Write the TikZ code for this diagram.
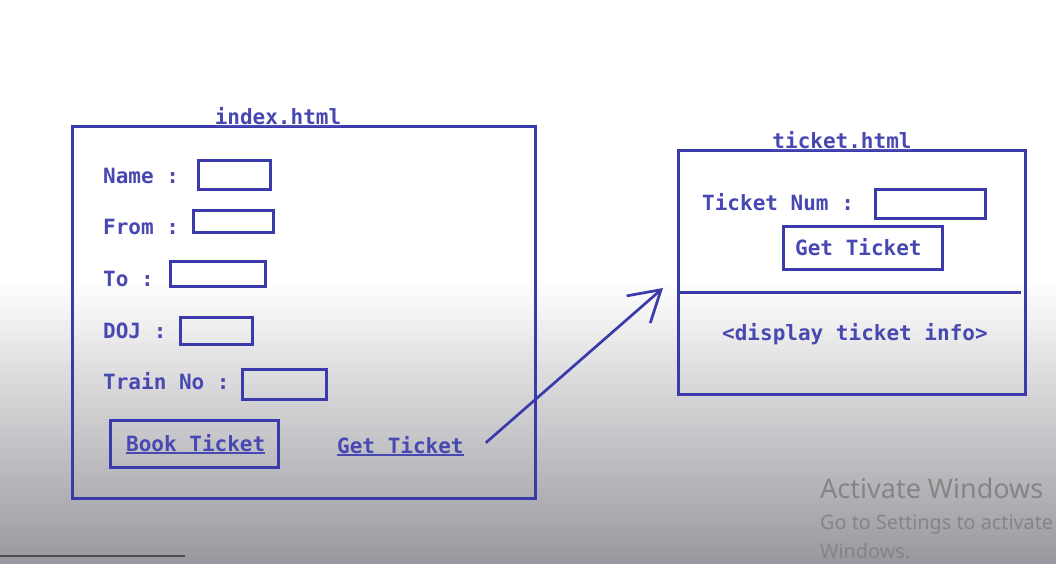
\documentclass[tikz,border=0pt]{standalone}
\usepackage{fontspec}
\setmonofont{DejaVu Sans Mono}
\newfontfamily\winfont{Noto Sans}
\usetikzlibrary{arrows.meta, positioning}

\definecolor{inkblue}{RGB}{58,58,170}
\definecolor{labelblue}{RGB}{72,72,178}
\definecolor{shadegray}{RGB}{152,152,158}
\definecolor{midgray}{RGB}{214,214,218}
\newcommand{\linktext}[1]{\setbox0\hbox{#1}\rlap{\raisebox{-2.6pt}{\rule{\wd0}{1.5pt}}}\box0}

\begin{document}
\begin{tikzpicture}[
    x=1pt, y=-1pt,
    page/.style={rectangle, draw=inkblue, line width=3pt, inner sep=0pt},
    field/.style={rectangle, draw=inkblue, line width=3pt, inner sep=0pt},
    button/.style={rectangle, draw=inkblue, line width=3pt, inner sep=0pt},
    lbl/.style={anchor=base west, inner sep=0pt, text=labelblue, font=\ttfamily\bfseries\fontsize{21}{25}\selectfont},
    title/.style={lbl, anchor=base},
    arrow/.style={-{Straight Barb[length=30pt, width=36pt]}, draw=inkblue, line width=2.7pt},
    watermark/.style={anchor=base west, inner sep=0pt, text=black!48, font=\winfont}
]
\useasboundingbox (0,0) rectangle (1056,563);

% --- Background (screen) ---
\fill[white] (0,0) rectangle (1056,280);
\shade[top color=white, middle color=midgray, bottom color=shadegray] (0,280) rectangle (1056,563);
\draw[black!70, line width=2pt] (0,556) -- (185,556);

% --- index.html ---
\node (indexpage) [page, minimum width=463pt, minimum height=372pt] at (303.5,312) {};
\node (indextitle) [title] at (278,124) {\linktext{index.html}};

\node (namelbl) [lbl] at (103,183) {Name :};
\node (namefield) [field, minimum width=72pt, minimum height=29pt] at (234,174.5) {};
\node (fromlbl) [lbl] at (103,234) {From :};
\node (fromfield) [field, minimum width=80pt, minimum height=22pt] at (233,221) {};
\node (tolbl) [lbl] at (103,286) {To :};
\node (tofield) [field, minimum width=95pt, minimum height=25pt] at (217.5,273.5) {};
\node (dojlbl) [lbl] at (103,338) {DOJ :};
\node (dojfield) [field, minimum width=72pt, minimum height=27pt] at (216,330.5) {};
\node (trainlbl) [lbl] at (103,389) {Train No :};
\node (trainfield) [field, minimum width=84pt, minimum height=30pt] at (284,384) {};

\node (bookbtn) [button, minimum width=168pt, minimum height=47pt] at (194,443.5) {};
\node (booklbl) [lbl] at (126,451) {\linktext{Book Ticket}};
\node (getlink) [lbl] at (337,453) {\linktext{Get Ticket}};

% --- ticket.html ---
\node (ticketpage) [page, minimum width=347pt, minimum height=244pt] at (851.5,272) {};
\node (tickettitle) [title] at (842,148) {\linktext{ticket.html}};
\coordinate (split west) at (678,292);
\coordinate (split east) at (1021,292);
\draw [inkblue, line width=3pt] (split west) -- (split east);

\node (numlbl) [lbl] at (702,210) {Ticket Num :};
\node (numfield) [field, minimum width=110pt, minimum height=29pt] at (930,203.5) {};
\node (getbtn) [button, minimum width=159pt, minimum height=43pt] at (862.5,247.5) {};
\node (getlbl) [lbl] at (795,255) {Get Ticket};
\node (infolbl) [lbl] at (722,340) {<display ticket info>};

% --- Arrow ---
\draw [arrow] ([xshift=22pt, yshift=3pt]getlink.east) -- ([xshift=-15pt, yshift=4pt]split west);

% --- Watermark ---
\node (activate) [watermark, font=\winfont\fontsize{27}{32}\selectfont] at (820,498) {Activate Windows};
\node (settings) [watermark, font=\winfont\fontsize{19.8}{24}\selectfont] at (820,529) {Go to Settings to activate};
\node (windows) [watermark, font=\winfont\fontsize{19.8}{24}\selectfont] at (820,558) {Windows.};

\end{tikzpicture}
\end{document}
